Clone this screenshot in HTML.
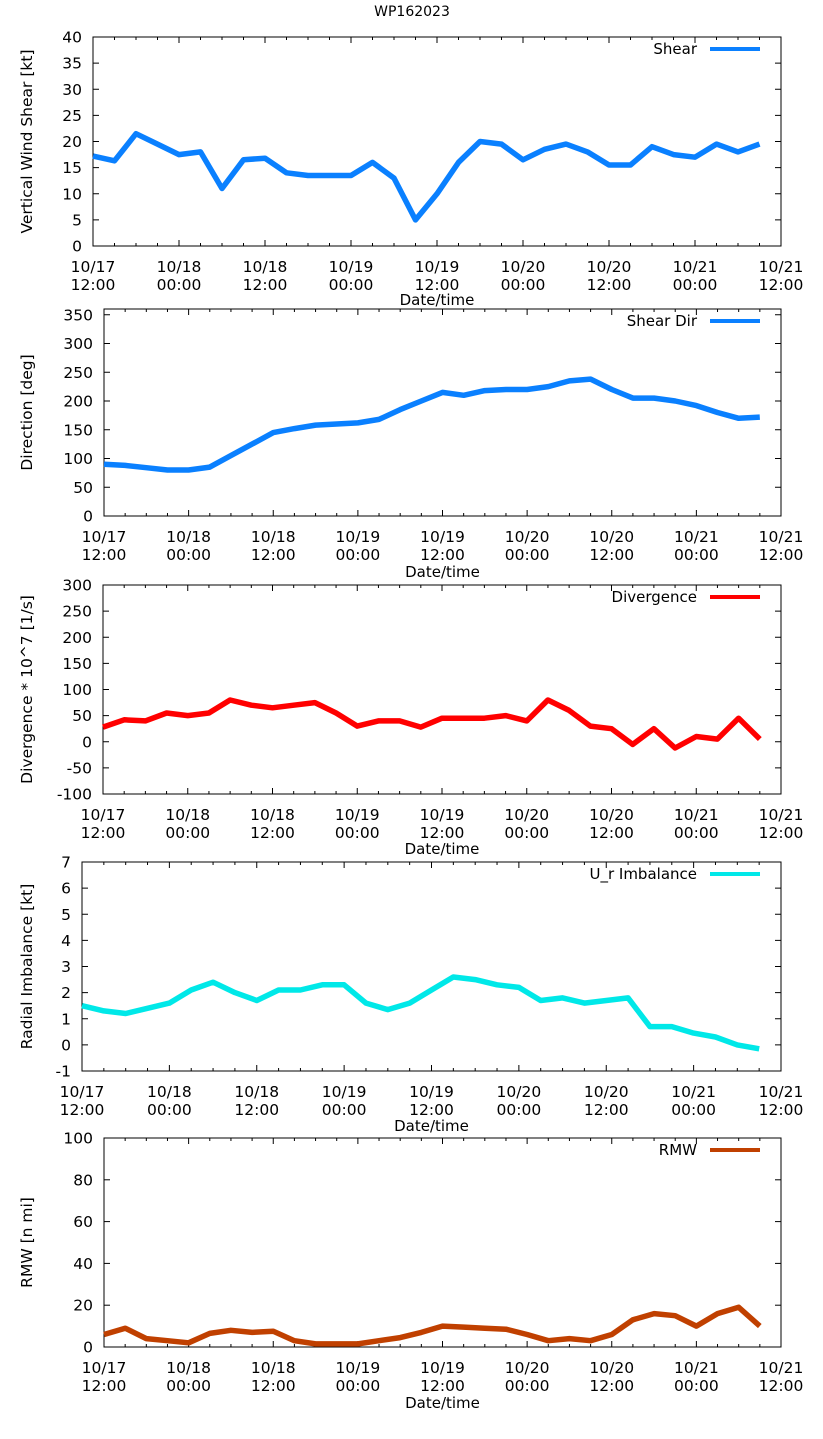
<!DOCTYPE html>
<html><head><meta charset="utf-8"><style>
body{margin:0;background:#fff}
svg{display:block;font-family:"DejaVu Sans","Liberation Sans",sans-serif}
</style></head><body>
<svg id="chart" width="823" height="1439" xmlns="http://www.w3.org/2000/svg">
<text x="412" y="16" text-anchor="middle" font-size="14">WP162023</text>
</svg>
<script>
// 3-hourly samples from 10/17 12:00
const shearValues=[17.2,16.3,21.5,19.5,17.5,18,11,16.5,16.8,14,13.5,13.5,13.5,16,13,5,10,16,20,19.5,16.5,18.5,19.5,18,15.5,15.5,19,17.5,17,19.5,18,19.5];
const dirValues=[90,88,84,80,80,85,105,125,145,152,158,160,162,168,185,200,215,210,218,220,220,225,235,238,220,205,205,200,192,180,170,172];
const divValues=[28,42,40,55,50,55,80,70,65,70,75,55,30,40,40,28,45,45,45,50,40,80,60,30,25,-5,25,-12,10,5,45,5];
const urValues=[1.5,1.3,1.2,1.4,1.6,2.1,2.4,2.0,1.7,2.1,2.1,2.3,2.3,1.6,1.35,1.6,2.1,2.6,2.5,2.3,2.2,1.7,1.8,1.6,1.7,1.8,0.7,0.7,0.45,0.3,0.0,-0.15];
const rmwValues=[6,9,4,3,2,6.5,8,7,7.5,3,1.5,1.5,1.5,3,4.5,7,10,9.5,9,8.5,6,3,4,3,6,13,16,15,10,16,19,10];
const xTickTop=["10/17","10/18","10/18","10/19","10/19","10/20","10/20","10/21","10/21"];
const xTickBot=["12:00","00:00","12:00","00:00","12:00","00:00","12:00","00:00","12:00"];
const shearTicks=[0,5,10,15,20,25,30,35,40];
const dirTicks=[0,50,100,150,200,250,300,350];
const divTicks=[-100,-50,0,50,100,150,200,250,300];
const urTicks=[-1,0,1,2,3,4,5,6,7];
const rmwTicks=[0,20,40,60,80,100];

const NS="http://www.w3.org/2000/svg";
const svg=document.getElementById('chart');
function mk(tag,attrs,parent){const e=document.createElementNS(NS,tag);for(const k in attrs)e.setAttribute(k,attrs[k]);(parent||svg).appendChild(e);return e;}

const panels=[
 {key:'shear',L:93,T:37,B:246,ymin:0,ymax:40,ticks:shearTicks,vals:shearValues,color:'#0a80ff',ylab:'Vertical Wind Shear [kt]',leg:'Shear',xlabY:305},
 {key:'direction',L:104,T:309,B:516,ymin:0,ymax:360,ticks:dirTicks,vals:dirValues,color:'#0a80ff',ylab:'Direction [deg]',leg:'Shear Dir',xlabY:577},
 {key:'divergence',L:103,T:585,B:794,ymin:-100,ymax:300,ticks:divTicks,vals:divValues,color:'#ff0000',ylab:'Divergence * 10^7 [1/s]',leg:'Divergence',xlabY:854},
 {key:'radial-imbalance',L:82,T:862,B:1071,ymin:-1,ymax:7,ticks:urTicks,vals:urValues,color:'#00e8e8',ylab:'Radial Imbalance [kt]',leg:'U_r Imbalance',xlabY:1131},
 {key:'rmw',L:104,T:1138,B:1347,ymin:0,ymax:100,ticks:rmwTicks,vals:rmwValues,color:'#c04000',ylab:'RMW [n mi]',leg:'RMW',xlabY:1408}
];
const R=781;
panels.forEach(p=>{
  const g=mk('g',{});
  
  
  const xs=h=>p.L+(R-p.L)*h/96;
  const ys=v=>p.B-(p.B-p.T)*(v-p.ymin)/(p.ymax-p.ymin);
  p.ticks.forEach(t=>{
    const y=ys(t);
    const tl=mk('line',{x1:p.L,x2:p.L+6,y1:y,y2:y,stroke:'#000','stroke-width':1},g);
    
    
    mk('line',{x1:R-6,x2:R,y1:y,y2:y,stroke:'#000','stroke-width':1},g);
    const tx=mk('text',{x:p.L-11,y:y+5.5,'text-anchor':'end','font-size':15.5},g);
    tx.textContent=t;
    
    
  });
  for(let h=0;h<=96;h+=3){
    const x=xs(h);const major=h%12===0;const len=major?6:3;
    mk('line',{x1:x,x2:x,y1:p.B,y2:p.B-len,stroke:'#000','stroke-width':1},g);
    mk('line',{x1:x,x2:x,y1:p.T,y2:p.T+len,stroke:'#000','stroke-width':1},g);
  }
  xTickTop.forEach((s,i)=>{
    const x=xs(i*12);
    const t1=mk('text',{x:x,y:p.B+26,'text-anchor':'middle','font-size':15.5},g);t1.textContent=s;
    
    
    const t2=mk('text',{x:x,y:p.B+44,'text-anchor':'middle','font-size':15.5},g);t2.textContent=xTickBot[i];
    
    
  });
  const fr=mk('rect',{x:p.L,y:p.T,width:R-p.L,height:p.B-p.T,fill:'none',stroke:'#000','stroke-width':1},g);
  
  
  const xl=mk('text',{x:(p.L+R)/2,y:p.xlabY,'text-anchor':'middle','font-size':15},g);xl.textContent='Date/time';
  
  
  const yc=(p.T+p.B)/2;
  const yl=mk('text',{x:32,y:yc,'text-anchor':'middle','font-size':15.5,transform:`rotate(-90 32 ${yc})`},g);yl.textContent=p.ylab;
  
  
  const lt=mk('text',{x:697,y:p.T+17,'text-anchor':'end','font-size':15},g);lt.textContent=p.leg;
  
  
  const ll=mk('line',{x1:710,x2:760,y1:p.T+12,y2:p.T+12,stroke:p.color,'stroke-width':4},g);
  
  
  const pts=p.vals.map((v,i)=>xs(i*3).toFixed(1)+','+ys(v).toFixed(1)).join(' ');
  const pl=mk('polyline',{points:pts,fill:'none',stroke:p.color,'stroke-width':5.5,'stroke-linejoin':'round'},g);
  
  
});
</script>
</body></html>
